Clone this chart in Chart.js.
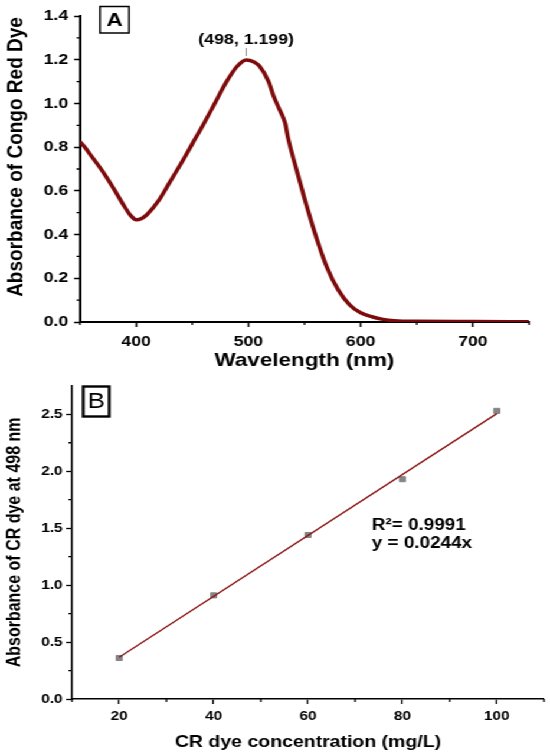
<!DOCTYPE html>
<html>
<head>
<meta charset="utf-8">
<script src="https://cdn.jsdelivr.net/npm/chart.js@4.4.1/dist/chart.umd.min.js"></script>
<style>
  html, body { margin: 0; padding: 0; background: #fff; overflow: hidden; }
  /* the original figure is stretched sideways, so draw narrow and scale */
  #wrap { width: 466px; height: 755px; transform: scaleX(1.1803); transform-origin: 0 0; }
  #boxA { position: relative; width: 466px; height: 375px; }
  #boxB { position: relative; width: 466px; height: 380px; }
</style>
</head>
<body>
<div id="wrap">
  <div id="boxA"><canvas id="chartA"></canvas></div>
  <div id="boxB"><canvas id="chartB"></canvas></div>
</div>
<script>
// Espectro (A)
const wavelength = [350, 355, 360, 370, 380, 390, 395, 400, 405, 410, 420, 430, 440, 450, 460, 470, 480, 490, 498,
    505, 510, 518, 522, 527, 531, 533, 535, 540, 550, 560, 570, 580, 590, 600, 610, 620, 630, 650, 700, 750];
const absorbance = [0.825, 0.795, 0.76, 0.69, 0.61, 0.525, 0.488, 0.468, 0.474, 0.493, 0.555, 0.64, 0.725, 0.815, 0.905, 1.0, 1.095, 1.17, 1.199,
    1.19, 1.17, 1.10, 1.04, 0.98, 0.935, 0.905, 0.85, 0.75, 0.565, 0.395, 0.25, 0.147, 0.08, 0.042, 0.024, 0.012, 0.006, 0.003, 0.002, 0.001];
const xTicksA = [400, 500, 600, 700];
const yTicksA = [0, 0.2, 0.4, 0.6, 0.8, 1.0, 1.2, 1.4];
const xMinorA = [350, 450, 550, 650, 750];
const yMinorA = [0.1, 0.3, 0.5, 0.7, 0.9, 1.1, 1.3];

// Curva de calibração (B)
const concentration = [20, 40, 60, 80, 100];
const absorbance498 = [0.36, 0.91, 1.44, 1.93, 2.53];
const fitX = [20, 100];
const fitY = [0.367, 2.506];
const xTicksB = [20, 40, 60, 80, 100];
const yTicksB = [0, 0.5, 1.0, 1.5, 2.0, 2.5];
const xMinorB = [10, 30, 50, 70, 90, 110];
const yMinorB = [0.25, 0.75, 1.25, 1.75, 2.25];

const FONT = 'Liberation Sans, Arial, sans-serif';

function fixTicks(list) {
    return function(scale) {
        scale.ticks = list.map(v => ({ value: v }));
    };
}

function drawMinor(chart, id, values, len) {
    const s = chart.scales[id];
    const ctx = chart.ctx;
    ctx.save();
    ctx.strokeStyle = '#000';
    ctx.lineWidth = 1.3;
    ctx.beginPath();
    values.forEach(v => {
        const p = s.getPixelForValue(v);
        if (s.isHorizontal()) {
            ctx.moveTo(p, s.top);
            ctx.lineTo(p, s.top + len);
        } else {
            ctx.moveTo(s.right, p);
            ctx.lineTo(s.right - len, p);
        }
    });
    ctx.stroke();
    ctx.restore();
}

// Gráfico A
const chartA = new Chart(document.getElementById('chartA'), {
    type: 'line',
    data: {
        datasets: [{
            data: wavelength.map((w, i) => ({ x: w, y: absorbance[i] })),
            borderColor: '#7e0b0b',
            borderWidth: 3.5,
            pointRadius: 0,
            cubicInterpolationMode: 'monotone',
            fill: false
        }]
    },
    options: {
        responsive: true,
        maintainAspectRatio: false,
        animation: false,
        layout: { padding: { left: 0, right: 17.8, top: 16, bottom: 0 } },
        plugins: { legend: { display: false }, tooltip: { enabled: false } },
        scales: {
            x: {
                type: 'linear',
                min: 350,
                max: 750,
                afterBuildTicks: fixTicks(xTicksA),
                afterFit: s => { s.height = 53; },
                grid: { drawOnChartArea: false, tickLength: 5, tickColor: '#000', tickWidth: 1.5 },
                border: { color: '#000', width: 2 },
                ticks: { color: '#000', padding: 6, maxRotation: 0, font: { family: FONT, size: 15, weight: 'bold' } },
                title: {
                    display: true,
                    text: 'Wavelength (nm)',
                    color: '#000',
                    padding: { top: 0, bottom: 3 },
                    font: { family: FONT, size: 19, weight: 'bold' }
                }
            },
            y: {
                min: 0,
                max: 1.4,
                afterBuildTicks: fixTicks(yTicksA),
                afterFit: s => { s.width = 67.8; },
                grid: { drawOnChartArea: false, tickLength: 5, tickColor: '#000', tickWidth: 1.5 },
                border: { color: '#000', width: 2 },
                ticks: { color: '#000', padding: 5, font: { family: FONT, size: 15, weight: 'bold' },
                    callback: v => v.toFixed(1) }
            }
        }
    },
    plugins: [{
        id: 'extrasA',
        afterDraw(chart) {
            const ctx = chart.ctx;
            drawMinor(chart, 'x', xMinorA, 3);
            drawMinor(chart, 'y', yMinorA, 3);
            ctx.save();
            ctx.fillStyle = '#000';
            // título do eixo y
            ctx.translate(14.1, 157);
            ctx.rotate(-Math.PI / 2);
            ctx.font = 'bold 19px ' + FONT;
            ctx.textAlign = 'center';
            ctx.textBaseline = 'middle';
            ctx.fillText('Absorbance of Congo Red Dye', 0, 0);
            ctx.restore();

            ctx.save();
            // caixa "A"
            ctx.strokeStyle = '#000';
            ctx.lineWidth = 1.5;
            ctx.strokeRect(84.7, 6.5, 24.6, 26.5);
            ctx.fillStyle = '#000';
            ctx.font = 'bold 19px ' + FONT;
            ctx.textAlign = 'center';
            ctx.textBaseline = 'middle';
            ctx.fillText('A', 97, 20.5);
            // marcação do pico
            const px = chart.scales.x.getPixelForValue(498);
            ctx.strokeStyle = '#888';
            ctx.lineWidth = 1;
            ctx.beginPath();
            ctx.moveTo(px, 48);
            ctx.lineTo(px, 56);
            ctx.stroke();
            ctx.font = 'bold 15px ' + FONT;
            ctx.fillText('(498, 1.199)', px, 40);
            ctx.restore();
        }
    }]
});

// Gráfico B
const chartB = new Chart(document.getElementById('chartB'), {
    type: 'scatter',
    data: {
        datasets: [{
            type: 'scatter',
            data: concentration.map((c, i) => ({ x: c, y: absorbance498[i] })),
            pointStyle: 'rect',
            pointRadius: 3.6,
            backgroundColor: '#858585',
            borderColor: '#858585',
            order: 1
        }, {
            type: 'line',
            data: fitX.map((x, i) => ({ x: x, y: fitY[i] })),
            borderColor: '#8b1414',
            borderWidth: 1.4,
            pointRadius: 0,
            fill: false,
            order: 0
        }]
    },
    options: {
        responsive: true,
        maintainAspectRatio: false,
        animation: false,
        layout: { padding: { left: 0, right: 5.1, top: 9, bottom: 0 } },
        plugins: { legend: { display: false }, tooltip: { enabled: false } },
        scales: {
            x: {
                type: 'linear',
                min: 10,
                max: 110,
                afterBuildTicks: fixTicks(xTicksB),
                afterFit: s => { s.height = 56; },
                grid: { drawOnChartArea: false, tickLength: 5, tickColor: '#000', tickWidth: 1.3 },
                border: { color: '#000', width: 1.6 },
                ticks: { color: '#000', padding: 5, maxRotation: 0, font: { family: FONT, size: 13, weight: 'bold' } },
                title: {
                    display: true,
                    text: 'CR dye concentration (mg/L)',
                    color: '#000',
                    padding: { top: 0, bottom: 3 },
                    font: { family: FONT, size: 16.5, weight: 'bold' }
                }
            },
            y: {
                min: 0,
                max: 2.75,
                afterBuildTicks: fixTicks(yTicksB),
                afterFit: s => { s.width = 61; },
                grid: { drawOnChartArea: false, tickLength: 5, tickColor: '#000', tickWidth: 1.3 },
                border: { color: '#000', width: 1.6 },
                ticks: { color: '#000', padding: 3, font: { family: FONT, size: 13, weight: 'bold' },
                    callback: v => v.toFixed(1) },
                title: {
                    display: true,
                    text: 'Absorbance of CR dye at 498 nm',
                    color: '#000',
                    padding: { top: 3, bottom: 0 },
                    font: { family: FONT, size: 16, weight: 'bold' }
                }
            }
        }
    },
    plugins: [{
        id: 'extrasB',
        afterDraw(chart) {
            const ctx = chart.ctx;
            drawMinor(chart, 'x', xMinorB, 3);
            drawMinor(chart, 'y', yMinorB, 3);
            ctx.save();
            // caixa "B"
            ctx.strokeStyle = '#000';
            ctx.lineWidth = 2.4;
            ctx.strokeRect(70.5, 11.5, 22, 30);
            ctx.fillStyle = '#000';
            ctx.font = '22px ' + FONT;
            ctx.textAlign = 'center';
            ctx.textBaseline = 'middle';
            ctx.fillText('B', 81.5, 27);
            // equação
            ctx.textAlign = 'left';
            ctx.textBaseline = 'alphabetic';
            ctx.font = 'bold 16px ' + FONT;
            ctx.fillText('R\u00b2= 0.9991', 315, 155);
            ctx.fillText('y = 0.0244x', 315, 173.3);
            ctx.restore();
        }
    }]
});
</script>
</body>
</html>
